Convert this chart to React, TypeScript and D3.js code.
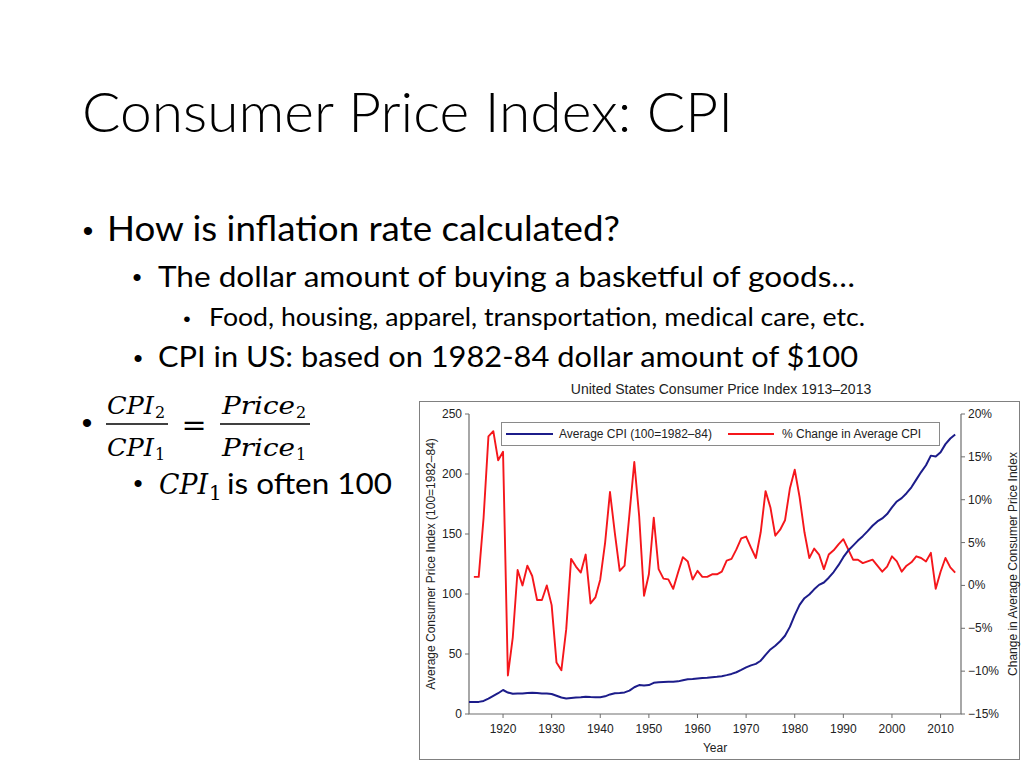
import { useMemo } from 'react'
import { scaleLinear, line } from 'd3'

// 슬라이드 한 장: 왼쪽은 CPI 설명 텍스트, 오른쪽은 1913–2013 미국 CPI 이중축 차트.

const CPI_START = 1913
// 연평균 CPI (100 = 1982–84)
const CPI = [
  9.9, 10.0, 10.1, 10.9, 12.8, 15.1, 17.3, 20.0, 17.9, 16.8, // 1913–1922
  17.1, 17.1, 17.5, 17.7, 17.4, 17.1, 17.1, 16.7, 15.2, 13.7, // 1923–1932
  13.0, 13.4, 13.7, 13.9, 14.4, 14.1, 13.9, 14.0, 14.7, 16.3, // 1933–1942
  17.3, 17.6, 18.0, 19.5, 22.3, 24.1, 23.8, 24.1, 26.0, 26.5, // 1943–1952
  26.7, 26.9, 26.8, 27.2, 28.1, 28.9, 29.1, 29.6, 29.9, 30.2, // 1953–1962
  30.6, 31.0, 31.5, 32.4, 33.4, 34.8, 36.7, 38.8, 40.5, 41.8, // 1963–1972
  44.4, 49.3, 53.8, 56.9, 60.6, 65.2, 72.6, 82.4, 90.9, 96.5, // 1973–1982
  99.6, 103.9, 107.6, 109.6, 113.6, 118.3, 124.0, 130.7, 136.2, 140.3, // 1983–1992
  144.5, 148.2, 152.4, 156.9, 160.5, 163.0, 166.6, 172.2, 177.1, 179.9, // 1993–2002
  184.0, 188.9, 195.3, 201.6, 207.3, 215.3, 214.5, 218.1, 224.9, 229.6, // 2003–2012
  233.0, // 2013
]

const PCT_START = 1914
// 전년 대비 연평균 CPI 변화율 (%)
const PCT = [
  1.0, 1.0, 7.9, 17.4, 18.0, 14.6, 15.6, -10.5, -6.1, 1.8, // 1914–1923
  0.0, 2.3, 1.1, -1.7, -1.7, 0.0, -2.3, -9.0, -9.9, -5.1, // 1924–1933
  3.1, 2.2, 1.5, 3.6, -2.1, -1.4, 0.7, 5.0, 10.9, 6.1, // 1934–1943
  1.7, 2.3, 8.3, 14.4, 8.1, -1.2, 1.3, 7.9, 1.9, 0.8, // 1944–1953
  0.7, -0.4, 1.5, 3.3, 2.8, 0.7, 1.7, 1.0, 1.0, 1.3, // 1954–1963
  1.3, 1.6, 2.9, 3.1, 4.2, 5.5, 5.7, 4.4, 3.2, 6.2, // 1964–1973
  11.0, 9.1, 5.8, 6.5, 7.6, 11.3, 13.5, 10.3, 6.2, 3.2, // 1974–1983
  4.3, 3.6, 1.9, 3.6, 4.1, 4.8, 5.4, 4.2, 3.0, 3.0, // 1984–1993
  2.6, 2.8, 3.0, 2.3, 1.6, 2.2, 3.4, 2.8, 1.6, 2.3, // 1994–2003
  2.7, 3.4, 3.2, 2.8, 3.8, -0.4, 1.6, 3.2, 2.1, 1.5, // 2004–2013
]

const YEAR_TICKS = [1920, 1930, 1940, 1950, 1960, 1970, 1980, 1990, 2000, 2010]
const CPI_TICKS = [0, 50, 100, 150, 200, 250]
const PCT_TICKS = [-15, -10, -5, 0, 5, 10, 15, 20]

const CHART_TITLE = 'United States Consumer Price Index 1913–2013'
const LEGEND = ['Average CPI (100=1982–84)', '% Change in Average CPI']

const PLOT = { left: 469, right: 961, top: 414, bottom: 714 }
const BLUE = '#1c1c8a'
const RED = '#f5161b'
const AXIS = '#6e6e6e'
const INK = '#222'
const SLIDE_FONT = 'Lato, "Open Sans", sans-serif'
const MATH_FONT = '"DejaVu Serif", serif'
const CHART_FONT = '"Liberation Sans", Arial, sans-serif'

const fmtPct = (d: number) => `${d < 0 ? '−' : ''}${Math.abs(d)}%`

function Bullet({ x, y, size }: { x: number; y: number; size: number }) {
  return (
    <text x={x} y={y} fontFamily={CHART_FONT} fontSize={size} dominantBaseline="central" textAnchor="middle">
      •
    </text>
  )
}

// 폭을 원본 슬라이드(Calibri)에 맞추기 위해 textLength로 고정
function Line({ x, y, size, w, children, weight }: { x: number; y: number; size: number; w: number; children: string; weight?: number }) {
  return (
    <text x={x} y={y} fontSize={size} fontWeight={weight} textLength={w} lengthAdjust="spacingAndGlyphs">
      {children}
    </text>
  )
}

function MathVar({ x, y, size, w, name, sub, subSize, subDy }: { x: number; y: number; size: number; w: number; name: string; sub: string; subSize: number; subDy: number }) {
  return (
    <g fontFamily={MATH_FONT}>
      <text x={x} y={y} fontSize={size} fontStyle="italic" textLength={w} lengthAdjust="spacingAndGlyphs">
        {name}
      </text>
      <text x={x + w + 1} y={y + subDy} fontSize={subSize}>
        {sub}
      </text>
    </g>
  )
}

export default function App() {
  const x = useMemo(() => scaleLinear().domain([1913, 2014.2]).range([PLOT.left, PLOT.right]), [])
  const yCpi = useMemo(() => scaleLinear().domain([0, 250]).range([PLOT.bottom, PLOT.top]), [])
  const yPct = useMemo(() => scaleLinear().domain([-15, 20]).range([PLOT.bottom, PLOT.top]), [])

  const cpiPath = line<number>()
    .x((_, i) => x(CPI_START + i))
    .y((d) => yCpi(d))(CPI)
  const pctPath = line<number>()
    .x((_, i) => x(PCT_START + i))
    .y((d) => yPct(d))(PCT)

  const midY = (PLOT.top + PLOT.bottom) / 2

  return (
    <svg width={1024} height={768} style={{ position: 'absolute', left: 0, top: 0, background: '#fff' }}>
      {/* 슬라이드 텍스트 */}
      <g fill="#000" fontFamily={SLIDE_FONT}>
        <Line x={82} y={132} size={55} w={651} weight={300}>
          Consumer Price Index: CPI
        </Line>

        <Bullet x={88} y={230} size={30} />
        <Line x={107} y={241} size={34} w={513}>
          How is inflation rate calculated?
        </Line>

        <Bullet x={137} y={277} size={26} />
        <Line x={158} y={287} size={29.5} w={697}>
          The dollar amount of buying a basketful of goods…
        </Line>

        <Bullet x={187} y={318} size={21} />
        <Line x={209} y={326} size={24.5} w={656}>
          Food, housing, apparel, transportation, medical care, etc.
        </Line>

        <Bullet x={138} y={358} size={26} />
        <Line x={158} y={367} size={29.5} w={700}>
          CPI in US: based on 1982-84 dollar amount of $100
        </Line>

        {/* CPI2/CPI1 = Price2/Price1 */}
        <Bullet x={87} y={422} size={30} />
        <MathVar x={107} y={414} size={24} w={47} name="CPI" sub="2" subSize={16} subDy={4} />
        <line x1={106} x2={168} y1={424} y2={424} stroke="#000" strokeWidth={1.5} />
        <MathVar x={107} y={456} size={24} w={47} name="CPI" sub="1" subSize={16} subDy={4} />
        <text x={194} y={435} fontFamily={MATH_FONT} fontSize={30} textAnchor="middle">
          =
        </text>
        <MathVar x={222} y={414} size={24} w={73} name="Price" sub="2" subSize={16} subDy={4} />
        <line x1={220} x2={310} y1={424} y2={424} stroke="#000" strokeWidth={1.5} />
        <MathVar x={222} y={456} size={24} w={73} name="Price" sub="1" subSize={16} subDy={4} />

        <Bullet x={138} y={483} size={26} />
        <MathVar x={159} y={494} size={28} w={49} name="CPI" sub="1" subSize={20} subDy={6} />
        <Line x={227} y={494} size={29.5} w={165}>
          is often 100
        </Line>
      </g>

      {/* 차트 */}
      <g fontFamily={CHART_FONT} fill={INK}>
        <rect x={419.5} y={401.5} width={600} height={358} fill="#fff" stroke="#808080" strokeWidth={1} />
        <text x={721} y={393.5} fontSize={14} textAnchor="middle">
          {CHART_TITLE}
        </text>

        {/* 축선 */}
        <path
          d={`M${PLOT.left},${PLOT.top}V${PLOT.bottom}H${PLOT.right}V${PLOT.top}`}
          fill="none"
          stroke={AXIS}
          strokeWidth={1.2}
        />

        {/* 왼쪽 축 */}
        {CPI_TICKS.map((t) => (
          <g key={`c${t}`} transform={`translate(${PLOT.left}, ${yCpi(t)})`}>
            <line x1={-4} x2={0} stroke={AXIS} />
            <text x={-7} dominantBaseline="central" textAnchor="end" fontSize={12}>
              {t}
            </text>
          </g>
        ))}

        {/* 오른쪽 축 */}
        {PCT_TICKS.map((t) => (
          <g key={`p${t}`} transform={`translate(${PLOT.right}, ${yPct(t)})`}>
            <line x1={0} x2={4} stroke={AXIS} />
            <text x={7} dominantBaseline="central" fontSize={12}>
              {fmtPct(t)}
            </text>
          </g>
        ))}

        {/* 아래 축 */}
        {YEAR_TICKS.map((t) => (
          <g key={`y${t}`} transform={`translate(${x(t)}, ${PLOT.bottom})`}>
            <line y1={0} y2={4} stroke={AXIS} />
            <text y={19} textAnchor="middle" fontSize={12}>
              {t}
            </text>
          </g>
        ))}

        <text x={(PLOT.left + PLOT.right) / 2} y={752} textAnchor="middle" fontSize={12}>
          Year
        </text>
        <text
          transform={`translate(431, ${midY}) rotate(-90)`}
          textAnchor="middle"
          dominantBaseline="central"
          fontSize={12}
        >
          Average Consumer Price Index (100=1982–84)
        </text>
        <text
          transform={`translate(1013, ${midY}) rotate(-90)`}
          textAnchor="middle"
          dominantBaseline="central"
          fontSize={12}
        >
          Change in Average Consumer Price Index
        </text>

        {/* 데이터 라인 */}
        <path d={pctPath ?? ''} fill="none" stroke={RED} strokeWidth={1.9} strokeLinejoin="round" />
        <path d={cpiPath ?? ''} fill="none" stroke={BLUE} strokeWidth={2} strokeLinejoin="round" />

        {/* 범례 */}
        <rect x={501.5} y={422.5} width={438} height={23} fill="#fff" stroke="#8a8a8a" />
        <line x1={506} x2={553} y1={434} y2={434} stroke={BLUE} strokeWidth={2} />
        <text x={559} y={434} dominantBaseline="central" fontSize={12}>
          {LEGEND[0]}
        </text>
        <line x1={728} x2={774} y1={434} y2={434} stroke={RED} strokeWidth={1.9} />
        <text x={782} y={434} dominantBaseline="central" fontSize={12}>
          {LEGEND[1]}
        </text>
      </g>
    </svg>
  )
}
